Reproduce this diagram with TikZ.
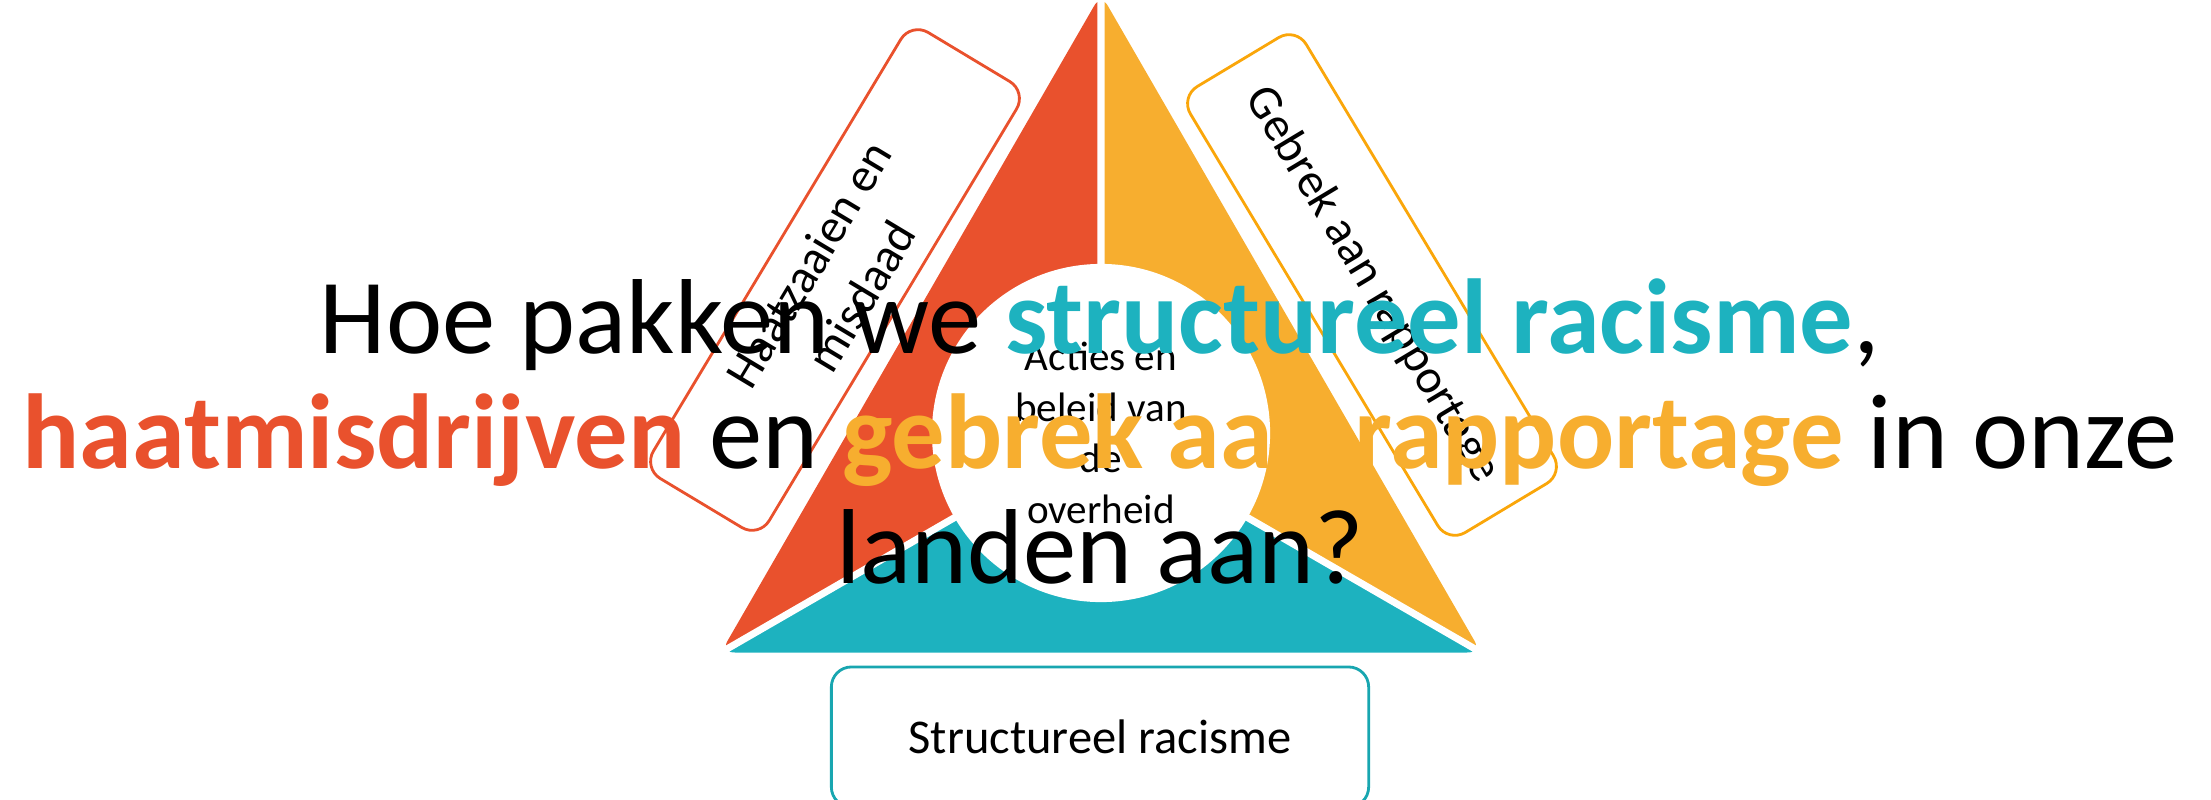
\documentclass[tikz,border=0pt]{standalone}
\usepackage{fontspec}
\setmainfont{Carlito}
\usepackage{tikz}
\usetikzlibrary{positioning}
\definecolor{haatred}{RGB}{233,81,45}
\definecolor{gebrekgold}{RGB}{247,174,47}
\definecolor{racismeteal}{RGB}{29,178,191}
\definecolor{goldline}{RGB}{250,166,10}
\definecolor{tealline}{RGB}{24,166,176}

\begin{document}
\begin{tikzpicture}
      [x=0.01cm,y=-0.01cm,
       segment/.style={rounded corners=4pt},
       theme box/.style={draw=#1,fill=white,line width=0.8pt,rounded corners=0.2cm,
         minimum width=5.2cm,minimum height=1.35cm,align=center,
         font=\fontsize{13.7}{17.5}\selectfont}]
    \clip (0,0) rectangle (2211,800);
    % triangle, split at its centre
    \coordinate (O) at (1101,433);
    \coordinate (A) at (1101,-6);
    \coordinate (L) at (720.8,652.5);
    \coordinate (R) at (1481.2,652.5);
    \fill[haatred,segment] (O) -- (A) -- (L) -- cycle;
    \fill[gebrekgold,segment] (O) -- (R) -- (A) -- cycle;
    \fill[racismeteal,segment] (O) -- (L) -- (R) -- cycle;
    \draw[white,line width=2pt] (O) -- (A) (O) -- (L) (O) -- (R);
    \node[circle,fill=white,minimum size=3.38cm,inner sep=0pt,align=center,
          font=\fontsize{11.7}{14.5}\selectfont] (kern) at (O)
          {Acties en\\beleid van\\de\\overheid};

    \node[theme box=haatred,rotate=59]  (haatzaaien) at (835,280) {Haatzaaien en\\misdaad};
    \node[theme box=goldline,rotate=-59] (gebrek) at (1372,285) {Gebrek aan rapportage};
    \node[theme box=tealline,minimum width=5.37cm,minimum height=1.4cm,
          font=\fontsize{13.8}{16}\selectfont] (racisme) at (1100,737) {Structureel racisme};

    % the question on top of the diagram
    \node[align=center,anchor=base,inner sep=0pt,
          font=\fontsize{30.3}{32.7}\selectfont] (vraag) at (1100,583)
      {Hoe pakken we {\bfseries\color{racismeteal}structureel racisme},\\
       {\bfseries\color{haatred}haatmisdrijven} en {\bfseries\color{gebrekgold}gebrek aan rapportage} in onze\\
       landen aan?};
\end{tikzpicture}
\end{document}
